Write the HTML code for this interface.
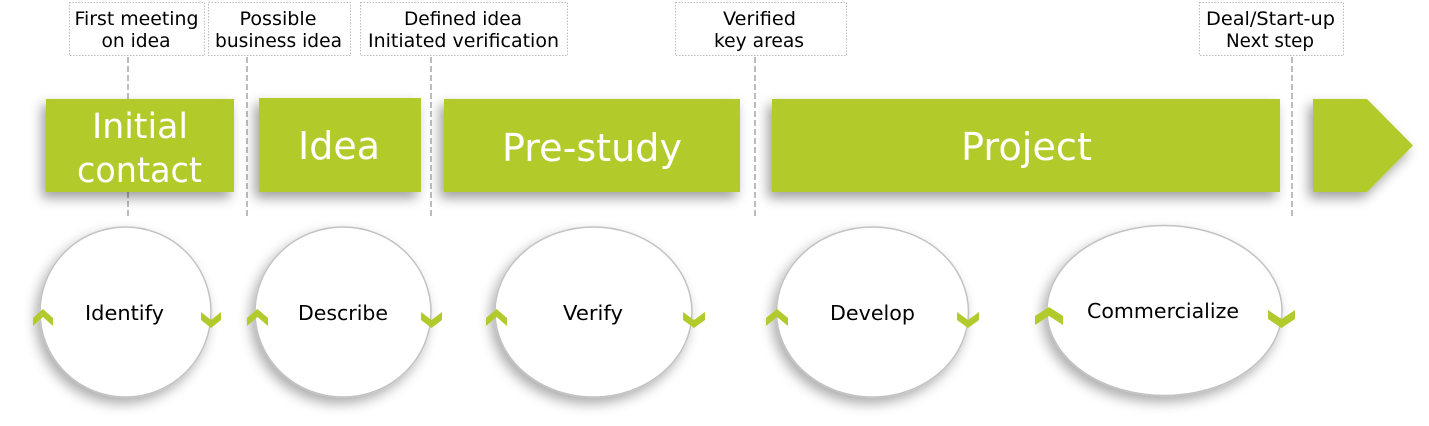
<!DOCTYPE html>
<html><head><meta charset="utf-8"><style>
html,body{margin:0;padding:0;background:#fff;}
svg{display:block;}
</style></head><body>
<svg width="1429" height="426" viewBox="0 0 1429 426" xmlns="http://www.w3.org/2000/svg">
<defs>
<filter id="sh" x="-20%" y="-20%" width="140%" height="150%">
<feDropShadow dx="-4" dy="6" stdDeviation="6" flood-color="#000" flood-opacity="0.38"/>
</filter>
<filter id="shc" x="-20%" y="-20%" width="140%" height="150%">
<feDropShadow dx="-4" dy="6" stdDeviation="6" flood-color="#000" flood-opacity="0.32"/>
</filter>
</defs>

<!-- label boxes -->
<g fill="#fff" stroke="#bdbdbd" stroke-width="1" stroke-dasharray="1.5,1.5">
<rect x="69.5" y="2.5" width="135" height="53"/>
<rect x="208.5" y="2.5" width="142" height="53"/>
<rect x="360.5" y="2.5" width="207" height="53"/>
<rect x="675.5" y="2.5" width="171" height="53"/>
<rect x="1199.5" y="2.5" width="144" height="53"/>
</g>
<g font-family="'DejaVu Sans','Liberation Sans',sans-serif" font-size="19" fill="#000" text-anchor="middle">
<text x="136.5" y="25" textLength="124" lengthAdjust="spacingAndGlyphs">First meeting</text>
<text x="136" y="47" textLength="69" lengthAdjust="spacingAndGlyphs">on idea</text>
<text x="278" y="25" textLength="77" lengthAdjust="spacingAndGlyphs">Possible</text>
<text x="278.5" y="47" textLength="127" lengthAdjust="spacingAndGlyphs">business idea</text>
<text x="463" y="25" textLength="118" lengthAdjust="spacingAndGlyphs">Defined idea</text>
<text x="463.5" y="47" textLength="191" lengthAdjust="spacingAndGlyphs">Initiated verification</text>
<text x="759.5" y="25" textLength="73" lengthAdjust="spacingAndGlyphs">Verified</text>
<text x="759" y="47" textLength="90" lengthAdjust="spacingAndGlyphs">key areas</text>
<text x="1270.5" y="25" textLength="129" lengthAdjust="spacingAndGlyphs">Deal/Start-up</text>
<text x="1270" y="47" textLength="88" lengthAdjust="spacingAndGlyphs">Next step</text>
</g>

<!-- dashed lines -->
<g stroke="#bdbdbd" stroke-width="2" stroke-dasharray="6,3">
<line x1="128" y1="57" x2="128" y2="216"/>
<line x1="247" y1="57" x2="247" y2="216"/>
<line x1="431" y1="57" x2="431" y2="216"/>
<line x1="755" y1="57" x2="755" y2="216"/>
<line x1="1292" y1="57" x2="1292" y2="216"/>
</g>

<!-- green boxes -->
<g fill="#b2ca2c" filter="url(#sh)">
<rect x="46" y="99" width="188" height="93"/>
<rect x="259" y="98" width="162" height="94"/>
<rect x="444" y="99" width="296" height="93"/>
<rect x="772" y="99" width="508" height="93"/>
<polygon points="1313,99 1367,99 1413,145.5 1367,192 1313,192"/>
</g>
<g font-family="'DejaVu Sans','Liberation Sans',sans-serif" fill="#fff" text-anchor="middle">
<text x="140" y="138" font-size="35" textLength="96" lengthAdjust="spacingAndGlyphs">Initial</text>
<text x="139.5" y="182" font-size="35" textLength="125" lengthAdjust="spacingAndGlyphs">contact</text>
<text x="339" y="159" font-size="38" textLength="82" lengthAdjust="spacingAndGlyphs">Idea</text>
<text x="592" y="161" font-size="38" textLength="180" lengthAdjust="spacingAndGlyphs">Pre-study</text>
<text x="1026.5" y="160" font-size="38" textLength="131" lengthAdjust="spacingAndGlyphs">Project</text>
</g>

<!-- circles -->
<g fill="#fff" stroke="#c2c2c2" stroke-width="1.5" filter="url(#shc)">
<ellipse cx="125.5" cy="312" rx="85.5" ry="85"/>
<ellipse cx="343" cy="312" rx="88" ry="85"/>
<ellipse cx="593.5" cy="312" rx="98.5" ry="85"/>
<ellipse cx="872.5" cy="312" rx="96" ry="85"/>
<ellipse cx="1164.5" cy="310.5" rx="117.5" ry="85"/>
</g>

<!-- chevrons -->
<g fill="#b2ca2c">
<polygon points="33,318 43,309 53,318 53,326 43,317 33,326"/>
<polygon points="201,312 211,320 221,312 221,320 211,328 201,320"/>
<polygon points="247,318 257.5,309 268,318 268,326 257.5,317 247,326"/>
<polygon points="421,312 431.5,320 442,312 442,320 431.5,328 421,320"/>
<polygon points="486,318 496.5,309 507,318 507,326 496.5,317 486,326"/>
<polygon points="683,312 694,320 705,312 705,320 694,328 683,320"/>
<polygon points="766,318 777,309 788,318 788,326 777,317 766,326"/>
<polygon points="957,312 968,320 979,312 979,320 968,328 957,320"/>
<polygon points="1035,316 1049,307 1063,316 1063,325 1049,316 1035,325"/>
<polygon points="1268,310 1281.5,319 1295,310 1295,319 1281.5,328 1268,319"/>
</g>

<g font-family="'DejaVu Sans','Liberation Sans',sans-serif" font-size="20.5" fill="#000" text-anchor="middle">
<text x="124.5" y="320" textLength="79" lengthAdjust="spacingAndGlyphs">Identify</text>
<text x="343" y="320" textLength="90" lengthAdjust="spacingAndGlyphs">Describe</text>
<text x="593" y="320" textLength="60" lengthAdjust="spacingAndGlyphs">Verify</text>
<text x="872.5" y="320" textLength="85" lengthAdjust="spacingAndGlyphs">Develop</text>
<text x="1163" y="318" textLength="152" lengthAdjust="spacingAndGlyphs">Commercialize</text>
</g>
</svg>
</body></html>
